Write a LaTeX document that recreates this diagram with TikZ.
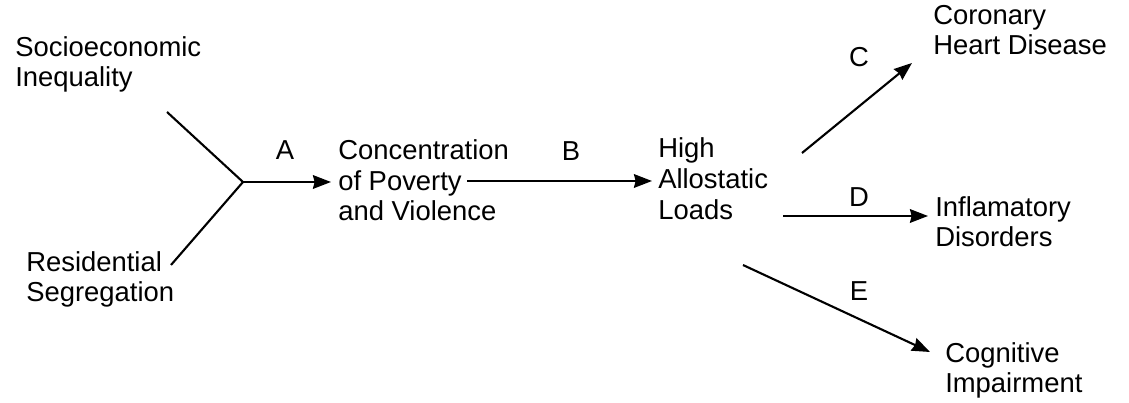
\documentclass[tikz,border=0pt]{standalone}
\usepackage{fontspec}
\setmainfont{Liberation Sans}
\usetikzlibrary{arrows.meta}
\begin{document}
\begin{tikzpicture}[
        lbl/.style={anchor=base west,align=left,inner sep=0pt,font=\fontsize{19.5}{22}\selectfont},
        let/.style={anchor=base,inner sep=0pt,font=\fontsize{19.5}{22}\selectfont},
        arr/.style={line width=1.5pt,-{Stealth[length=0.45cm,width=0.34cm,inset=0.04cm]}}]
        \useasboundingbox (0,0) rectangle (28.225,10.075);
        %% Factors (placed at the baseline of their last line)
        \node[lbl] (soc) at (0.375,7.9) {Socioeconomic\\Inequality};
        \node[lbl] (res) at (0.65,2.525) {Residential\\Segregation};
        \node[lbl] (con) at (8.45,4.55) {Concentration\\of Poverty\\and Violence};
        \node[lbl] (hal) at (16.45,4.585) {High\\Allostatic\\Loads};
        %% Outcomes
        \node[lbl] (chd) at (23.325,8.7) {Coronary\\Heart Disease};
        \node[lbl] (inf) at (23.375,3.9) {Inflamatory\\Disorders};
        \node[lbl] (cog) at (23.625,0.25) {Cognitive\\Impairment};
        %% Path labels
        \node[let] (A) at (7.125,6.075) {A};
        \node[let] (B) at (14.275,6.05) {B};
        \node[let] (C) at (21.475,8.4) {C};
        \node[let] (D) at (21.475,4.9) {D};
        \node[let] (E) at (21.475,2.55) {E};
        %% Arrows
        \coordinate (J) at (6.075,5.525);
        \coordinate (u0) at (4.175,7.275);
        \coordinate (l0) at (4.275,3.45);
        \coordinate (b0) at (11.675,5.55);
        \coordinate (c0) at (20.05,6.25);
        \coordinate (c1) at (22.8,8.5);
        \coordinate (d0) at (19.575,4.675);
        \coordinate (e0) at (18.575,3.45);
        \coordinate (e1) at (23.25,1.275);
        \draw[line width=1.5pt] (u0) -- (J) -- (l0);
        \draw[arr,shorten >=0.175cm] (J) -- (J -| con.west);
        \draw[arr,shorten >=0.15cm] (b0) -- (b0 -| hal.west);
        \draw[arr] (c0) -- (c1);
        \draw[arr,shorten >=0.175cm] (d0) -- (d0 -| inf.west);
        \draw[arr] (e0) -- (e1);
    \end{tikzpicture}
\end{document}
